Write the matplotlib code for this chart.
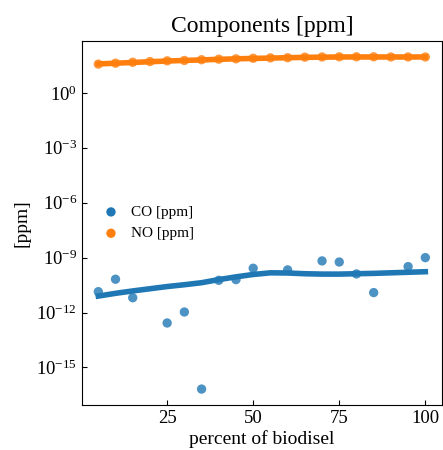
import numpy as np
import matplotlib
matplotlib.use("Agg")
import matplotlib.pyplot as plt

plt.rcParams['font.family'] = ['Liberation Serif', 'DejaVu Serif']
plt.rcParams['mathtext.fontset'] = 'stix'

# percent of biodiesel in the blend
biodiesel = [5, 10, 15, 20, 25, 30, 35, 40, 45, 50,
             55, 60, 65, 70, 75, 80, 85, 90, 95, 100]

# log10 of measured concentrations (nan = nothing measured)
co_log = [-10.86, -10.18, -11.19, np.nan, -12.57, -11.97, -16.18, -10.24, -10.2, -9.58,
          np.nan, -9.67, np.nan, -9.18, -9.24, -9.89, -10.91, np.nan, -9.49, -9.0]
no_log = [1.57, 1.62, 1.67, 1.71, 1.75, 1.77, 1.81, 1.84, 1.86, 1.89,
          1.91, 1.92, 1.95, 1.96, 1.97, 1.97, 1.97, 1.96, 1.96, 1.96]

# smoothed trends
co_trend_log = [-11.1, -10.95, -10.82, -10.7, -10.58, -10.48, -10.37, -10.2, -10.05, -9.92,
                -9.83, -9.84, -9.88, -9.9, -9.9, -9.88, -9.86, -9.83, -9.8, -9.77]
no_trend_log = [1.58, 1.62, 1.66, 1.7, 1.74, 1.77, 1.8, 1.83, 1.86, 1.88,
                1.9, 1.92, 1.94, 1.95, 1.96, 1.96, 1.96, 1.96, 1.96, 1.96]

co = 10 ** np.array(co_log)
no = 10 ** np.array(no_log)
co_trend = 10 ** np.array(co_trend_log)
no_trend = 10 ** np.array(no_trend_log)

fig = plt.figure(figsize=(4.43, 4.5), dpi=100)
ax = fig.add_axes([0.185, 0.1, 0.812, 0.81])

ax.scatter(biodiesel, co, s=45, color='#1f77b4', alpha=0.8, label='CO [ppm]', edgecolors='none')
ax.plot(biodiesel, co_trend, color='#1f77b4', lw=4)
ax.scatter(biodiesel, no, s=45, color='#ff7f0e', alpha=0.8, label='NO [ppm]', edgecolors='none')
ax.plot(biodiesel, no_trend, color='#ff7f0e', lw=4)

ax.set_yscale('log')
ax.set_ylim(10 ** -17.05, 10 ** 2.86)
ax.set_yticks([1e0, 1e-3, 1e-6, 1e-9, 1e-12, 1e-15])
ax.minorticks_off()
ax.set_xticks([25, 50, 75, 100])
ax.tick_params(direction='in', labelsize=13.5)

ax.set_title('Components [ppm]', fontsize=17)
ax.set_xlabel('percent of biodisel', fontsize=14, labelpad=2)
ax.set_ylabel('[ppm]', fontsize=14)
leg = ax.legend(loc='center left', bbox_to_anchor=(0.0, 0.5), frameon=False, fontsize=11,
                handletextpad=0.3)
for h in leg.legend_handles:
    h.set_alpha(1)

fig.savefig('out.png', dpi=100)
